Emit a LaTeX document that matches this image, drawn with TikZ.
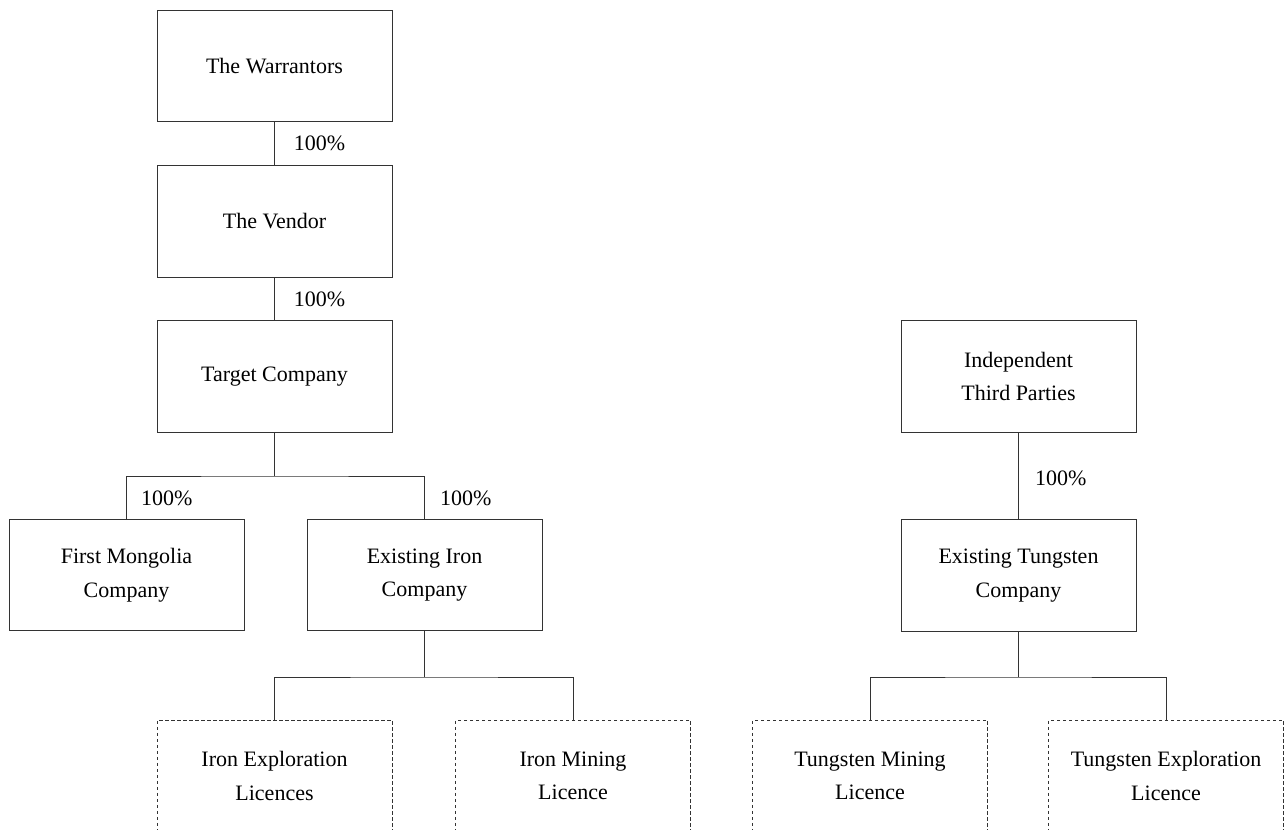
\documentclass[tikz,border=0pt]{standalone}
\usepackage{fontspec}
\setmainfont{Liberation Serif}
\begin{document}
\begin{tikzpicture}[x=1bp,y=-1bp,
  line/.style={draw=black!80,line width=0.9bp},
  entity/.style={rectangle,line,minimum width=235bp,minimum height=111.5bp,
    align=center,inner sep=0pt,font=\fontsize{22bp}{33.5bp}\selectfont},
  licence/.style={entity,dash pattern=on 3.5bp off 2.5bp},
  pct/.style={anchor=west,inner sep=0pt,font=\fontsize{22bp}{26bp}\selectfont}]
\clip (0,0) rectangle (1285,830);
% main chain
\node[entity] (warr) at (274.5,66) {The Warrantors};
\node[entity] (vend) at (274.5,221.5) {The Vendor};
\node[entity] (targ) at (274.5,376.5) {Target Company};
\node[entity] (fmc) at (126.5,575) {First Mongolia\\Company};
\node[entity] (eic) at (424.5,575) {Existing Iron\\Company};
\node[licence] (iel) at (274.5,776) {Iron Exploration\\Licences};
\node[licence] (iml) at (573,776) {Iron Mining\\Licence};
% tungsten side
\node[entity] (itp) at (1018.5,376.5) {Independent\\Third Parties};
\node[entity] (etc) at (1018.5,575.5) {Existing Tungsten\\Company};
\node[licence] (tml) at (870,776) {Tungsten Mining\\Licence};
\node[licence] (tel) at (1166,776) {Tungsten Exploration\\Licence};
% connectors
\draw[line] (warr.south) -- node[pct,pos=0.5,xshift=19bp] (p1) {100\%} (vend.north);
\draw[line] (vend.south) -- node[pct,pos=0.5,xshift=19bp] (p2) {100\%} (targ.north);
\coordinate (j1) at (274.5,476);
\draw[line] (targ.south) -- (j1);
\draw[line] (fmc.north) |- (j1) -| (eic.north);
\node[pct] (p3) at (141,498) {100\%};
\node[pct] (p4) at (440,498) {100\%};
\coordinate (j2) at (424.5,677);
\draw[line] (eic.south) -- (j2);
\draw[line] (iel.north) |- (j2) -| (iml.north);
\draw[line] (itp.south) -- (etc.north);
\node[pct] (p5) at (1035,478) {100\%};
\coordinate (j3) at (1018.5,677);
\draw[line] (etc.south) -- (j3);
\draw[line] (tml.north) |- (j3) -| (tel.north);
\end{tikzpicture}
\end{document}
